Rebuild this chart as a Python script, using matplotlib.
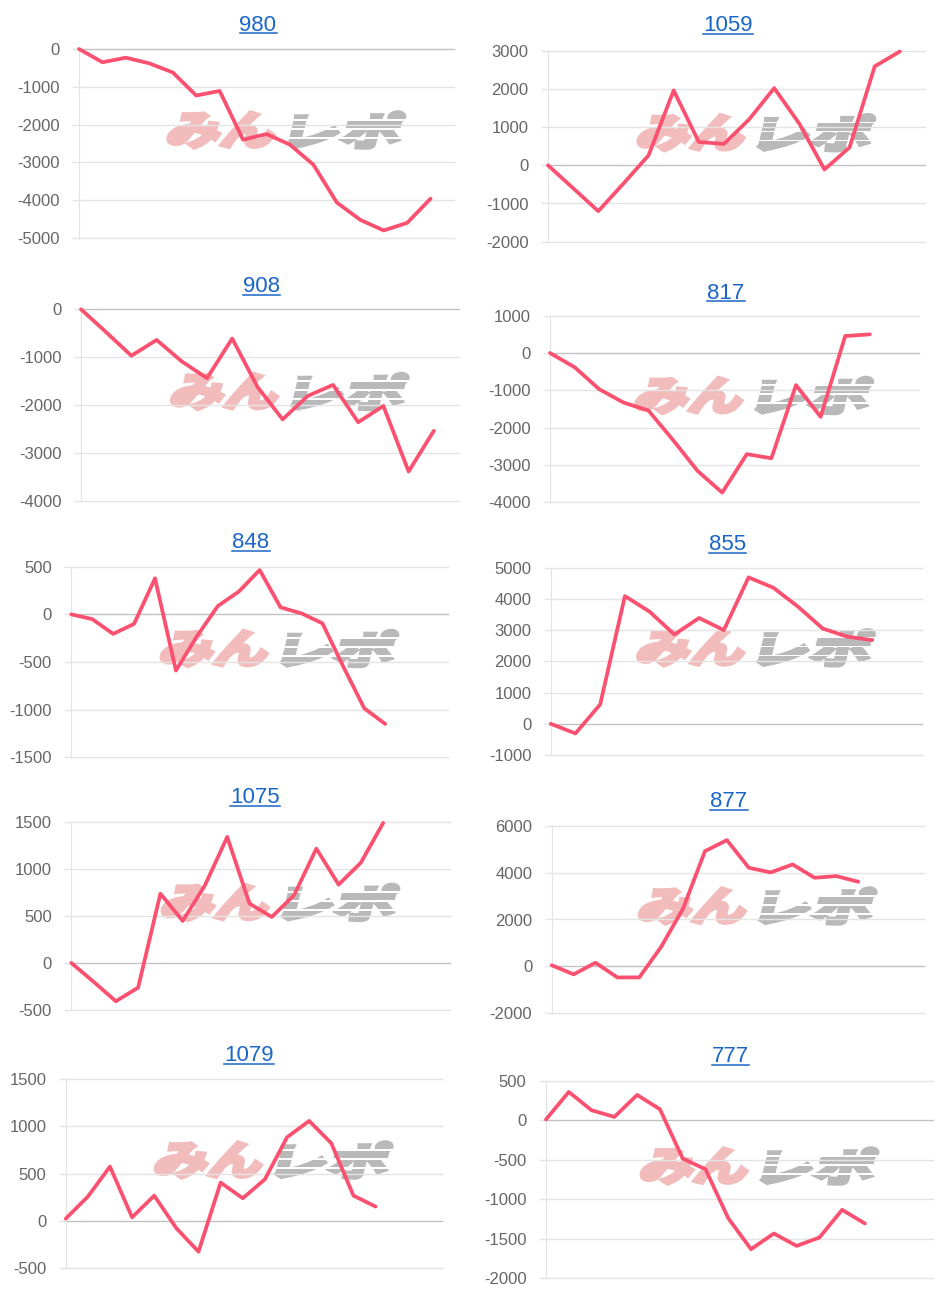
import numpy as np
import matplotlib
matplotlib.use('Agg')
import matplotlib.pyplot as plt
from matplotlib.textpath import TextPath
from matplotlib.patches import PathPatch, Rectangle
from matplotlib.font_manager import FontProperties
from matplotlib.transforms import Affine2D
from matplotlib.lines import Line2D

plt.rcParams['font.family'] = ['Liberation Sans', 'DejaVu Sans']

# --- data ---
titles = ['980', '1059', '908', '817', '848', '855', '1075', '877', '1079', '777']

p980 = [0, -350, -230, -380, -620, -1230, -1110, -2400, -2250, -2530, -3060, -4060, -4520, -4800, -4600, -3960]
p1059 = [0, -600, -1200, -480, 260, 1960, 610, 560, 1200, 2020, 1090, -110, 470, 2590, 2980]
p908 = [0, -480, -970, -640, -1090, -1440, -610, -1620, -2300, -1810, -1580, -2360, -2020, -3390, -2540]
p817 = [0, -380, -970, -1330, -1540, -2330, -3160, -3740, -2710, -2820, -860, -1710, 455, 500]
p848 = [0, -50, -205, -100, 378, -590, -230, 87, 238, 465, 73, 10, -94, -550, -986, -1150]
p855 = [0, -310, 620, 4090, 3590, 2860, 3390, 3000, 4690, 4360, 3750, 3050, 2790, 2680]
p1075 = [0, -200, -407, -262, 736, 446, 825, 1338, 630, 488, 719, 1214, 832, 1065, 1487]
p877 = [50, -340, 156, -470, -470, 838, 2470, 4916, 5385, 4206, 4007, 4348, 3780, 3850, 3610]
p1079 = [20, 255, 573, 35, 265, -81, -330, 404, 237, 439, 885, 1058, 821, 265, 149]
p777 = [10, 358, 126, 42, 320, 139, -485, -620, -1240, -1632, -1433, -1590, -1484, -1134, -1307]

series = [p980, p1059, p908, p817, p848, p855, p1075, p877, p1079, p777]

# y axis range and tick step per chart
y_lo = [-5000, -2000, -4000, -4000, -1500, -1000, -500, -2000, -500, -2000]
y_hi = [0, 3000, 0, 1000, 500, 5000, 1500, 6000, 1500, 500]
y_step = [1000, 1000, 1000, 1000, 500, 1000, 500, 2000, 500, 500]
# number of category slots on the x axis
slots = [16, 15, 15, 15, 18, 15, 17, 17, 17, 17]

# --- layout in pixels (left, right, top, bottom) of each plot area ---
W, H = 942, 1289
boxes = [(79, 454, 49, 238), (548, 925, 50.7, 241.7),
         (81, 459, 309.3, 500.7), (550, 919, 315.7, 502.3),
         (71.3, 448, 566.7, 757.3), (550.7, 921.7, 567.7, 755),
         (71.3, 450, 821.7, 1010), (551.7, 924, 825.7, 1013.3),
         (65.7, 442, 1079.3, 1267.7), (546, 933.3, 1080.7, 1278.3)]
title_pos = [(258, 30.6), (728, 31.1), (261.5, 292), (726, 298.6), (251, 548),
             (727.5, 550.3), (255, 803), (729, 807), (249, 1061.3), (730.8, 1062)]

LINE = '#fb5070'
GRID = '#e4e4e4'
ZERO = '#c2c2c2'
BLUE = '#1a66c8'

fig = plt.figure(figsize=(W / 100, H / 100), dpi=100)
fig.patch.set_facecolor('white')

jp = FontProperties(family='Noto Sans CJK JP', weight='bold')


def word(txt, x0, y0, w, h, color):
    # x0, y0 = lower-left in display pixels
    tp = TextPath((0, 0), txt, size=100, prop=jp)
    ext = tp.get_extents()
    tr = (Affine2D().translate(-ext.x0, -ext.y0)
          .scale(w / ext.width, h / ext.height)
          .skew_deg(14, 0).translate(x0 - h * 0.12, y0))
    p = PathPatch(tp, transform=tr, facecolor=color, edgecolor=color, lw=3.2,
                  joinstyle='miter', zorder=-2)
    fig.add_artist(p)


def logo(cx, cy):
    # cx, cy in picture pixels (y from top)
    left = cx - 112
    base = H - (cy + 17)
    word('みん', left, base, 104, 35, '#f2bcbc')
    word('レポ', left + 122, base, 108, 35, '#b9b9b9')
    # speed-line gaps on the grey half
    for dy in (9, 18, 27):
        fig.add_artist(Rectangle((left + 112, base + dy), 130, 1.6, transform=None,
                                 facecolor='white', edgecolor='none', zorder=-1.5))


titles_txt = []
for i in range(10):
    l, r, t, b = boxes[i]
    ax = fig.add_axes([l / W, 1 - b / H, (r - l) / W, (b - t) / H])
    ax.set_facecolor('none')

    ys = series[i]
    ax.plot(np.arange(len(ys)), ys, color=LINE, lw=2.7,
            solid_joinstyle='round', solid_capstyle='round', zorder=3, clip_on=False)

    ticks = np.arange(y_lo[i], y_hi[i] + y_step[i], y_step[i])
    for v in ticks:
        ax.axhline(v, color=ZERO if v == 0 else GRID, lw=1, zorder=1, clip_on=False)
    ax.set_xlim(0, slots[i])
    ax.set_ylim(y_lo[i], y_hi[i])
    ax.set_yticks(ticks)
    ax.set_yticklabels([str(int(v)) for v in ticks])
    ax.set_xticks([])
    for s in ['top', 'right', 'bottom']:
        ax.spines[s].set_visible(False)
    ax.spines['left'].set_color(GRID)
    ax.tick_params(axis='y', length=5, width=1, color=GRID, pad=9,
                   labelsize=12, labelcolor='#666666')

    logo((l + r) / 2 + 16, (t + b) / 2 - 13)

    tx, ty = title_pos[i]
    tt = fig.text(tx / W, 1 - ty / H, titles[i], ha='center', va='baseline',
                  fontsize=16, color=BLUE)
    titles_txt.append((tt, ty))

# underline the titles
fig.canvas.draw()
for tt, ty in titles_txt:
    bb = tt.get_window_extent()
    yl = H - (ty + 2.5)
    fig.add_artist(Line2D([bb.x0, bb.x1], [yl, yl], transform=None,
                          color=BLUE, lw=1.1))

fig.savefig('out.png', dpi=100)
